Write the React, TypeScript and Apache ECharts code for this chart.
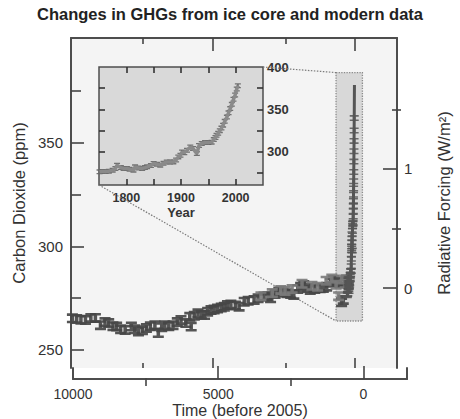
import React, { useEffect, useRef } from "react";
import * as echarts from "echarts";

const titleText = "Changes in GHGs from ice core and modern data";
const refYear = 2005;

// Ice-core CO2 (years before 2005, ppm) – dark markers
const mainYears = [9950, 9800, 9650, 9490, 9300, 9140, 8960, 8800, 8670, 8520, 8390, 8250, 8090, 7870, 7750, 7620, 7480, 7340, 7200, 7040, 6920, 6800, 6690, 6550, 6400, 6250, 6120, 5950, 5810, 5760, 5650, 5520, 5400, 5290, 5180, 5060, 4950, 4830, 4700, 4590, 4480, 4360, 4200, 4070, 3890, 3750, 3540, 3400, 3190, 3050, 2960, 2800, 2670, 2520, 2380, 2250, 2140, 2000, 1900, 1790, 1650, 1560, 1400, 1210, 1100, 980, 850, 740, 620, 510, 455, 395, 330, 280];
const mainCO2 = [265.3, 265.0, 264.6, 264.5, 265.5, 265.5, 262.0, 263.5, 263.0, 261.5, 261.3, 260.0, 259.7, 261.3, 260.0, 258.9, 259.5, 260.6, 261.5, 262.0, 258.2, 261.0, 262.0, 261.5, 262.0, 263.5, 264.5, 263.0, 266.0, 261.3, 266.5, 267.7, 267.0, 266.9, 268.5, 269.3, 269.5, 270.0, 270.5, 270.9, 271.7, 272.0, 271.5, 270.9, 273.3, 273.8, 274.2, 275.0, 275.8, 276.0, 275.0, 277.0, 278.2, 277.8, 277.4, 277.0, 276.6, 279.5, 280.5, 281.4, 280.0, 279.0, 279.5, 279.8, 280.0, 280.6, 282.5, 283.8, 283.0, 282.2, 273.0, 274.2, 283.0, 284.0];

// Ice-core CO2 – lighter markers
const lightYears = [3300, 2900, 2600, 2450, 2200, 1850, 1500, 1300, 1000, 800, 650, 560, 450, 330];
const lightCO2 = [276.0, 277.5, 279.0, 278.5, 279.5, 282.0, 281.0, 280.5, 283.5, 284.5, 281.5, 276.0, 284.0, 282.0];

// Modern record (calendar year, ppm)
const modernYears = [1751, 1756, 1762, 1768, 1775, 1780, 1783, 1790, 1795, 1801, 1806, 1813, 1816, 1822, 1829, 1834, 1838, 1845, 1850, 1856, 1862, 1868, 1874, 1880, 1886, 1891, 1895, 1899, 1902, 1906, 1911, 1917, 1922, 1929, 1933, 1938, 1944, 1950, 1956, 1960, 1963, 1965, 1968, 1971, 1974, 1977, 1980, 1984, 1987, 1990, 1993, 1996, 1999, 2002, 2004];
const modernCO2 = [276.5, 276.8, 277.0, 277.3, 278.5, 280.5, 284.4, 281.5, 280.5, 280.5, 279.5, 278.5, 282.4, 281.0, 280.5, 281.5, 282.4, 284.0, 286.4, 285.5, 284.4, 286.5, 288.2, 288.0, 288.2, 290.5, 294.1, 296.0, 300.0, 299.0, 302.0, 305.9, 304.0, 298.0, 307.5, 309.9, 311.0, 311.0, 311.5, 314.5, 317.0, 319.5, 322.0, 325.0, 328.0, 331.5, 336.0, 341.0, 346.0, 351.0, 356.0, 362.0, 367.0, 374.0, 378.0];

// Ticks
const co2Ticks = [250, 300, 350];
const co2Minor = [275, 325, 375];
const rfTicks = [0, 1];
const rfMinor = [0.5, 1.5];
const timeLabels = [10000, 5000, 0];
const timeMajor = [5000, 0];
const timeMinor = [7500, 2500];
const insetYearTicks = [1800, 1850, 1900, 1950, 2000];
const insetYearLabels = [1800, 1900, 2000];
const insetCO2Ticks = [275, 300, 325, 350, 375];
const insetCO2Labels = [300, 350, 400];

// Highlight box (years before 2005, ppm)
const boxYears = [650, -280];
const boxCO2 = [264, 384];

const FONT = "'Liberation Sans', Arial, Helvetica, sans-serif";
const AX = { color: "#4d4d4d", width: 2 };
const ISHAPE = "path://M0,0H10V2.6H6.6V7.4H10V10H0V7.4H3.4V2.6H0Z";
const plain = (v: number) => String(v);

function tickAxis(extra: any, ticks: number[], len: number, showLine = false, tickColor = "#444") {
  return {
    type: "value",
    axisLine: { show: showLine, onZero: false, lineStyle: AX },
    axisTick: { show: true, inside: true, length: len, customValues: ticks, lineStyle: { color: tickColor, width: 1.6 } },
    axisLabel: { show: false },
    splitLine: { show: false },
    ...extra,
  };
}

export default function App() {
  const ref = useRef<HTMLDivElement>(null);
  useEffect(() => {
    if (!ref.current) return;
    const chart = echarts.init(ref.current, undefined, { renderer: "svg" });
    const mainGrid = { left: 71, top: 38, width: 330, height: 330 };
    const detGrid = { left: 73, top: 368, width: 334, height: 18 };
    const insetGrid = { left: 99, top: 67, width: 164, height: 118 };
    const timeRange = { min: -1500, max: 10000, inverse: true };
    const option: any = {
      animation: false,
      backgroundColor: "#ffffff",
      title: {
        text: titleText,
        left: "center",
        top: 0,
        textStyle: { fontFamily: FONT, fontSize: 16.5, fontWeight: "bold", color: "#222" },
      },
      grid: [
        { ...mainGrid, show: true, backgroundColor: "#f4f4f4", borderWidth: 0 },
        { ...mainGrid },
        { ...detGrid },
        { ...detGrid },
        { ...insetGrid, show: true, backgroundColor: "#d9d9d9", borderColor: "#4d4d4d", borderWidth: 1.5 },
      ],
      xAxis: [
        tickAxis({ gridIndex: 0, position: "bottom", ...timeRange }, timeMajor, 10),
        tickAxis({ gridIndex: 0, position: "top", ...timeRange }, timeMajor, 13, true),
        tickAxis({ gridIndex: 1, position: "bottom", ...timeRange }, timeMinor, 5),
        tickAxis({ gridIndex: 1, position: "top", ...timeRange }, timeMinor, 6),
        tickAxis(
          {
            gridIndex: 2,
            position: "bottom",
            ...timeRange,
            axisLabel: { show: true, customValues: timeLabels, formatter: plain, margin: 8, fontFamily: FONT, fontSize: 14, color: "#333" },
            name: "Time (before 2005)",
            nameLocation: "middle",
            nameGap: 19,
            nameTextStyle: { fontFamily: FONT, fontSize: 16, color: "#333", verticalAlign: "top" },
          },
          timeMajor,
          13,
          true
        ),
        tickAxis({ gridIndex: 3, position: "bottom", ...timeRange }, timeMinor, 8),
        tickAxis(
          {
            gridIndex: 4,
            position: "bottom",
            min: 1750,
            max: 2050,
            axisLabel: { show: true, customValues: insetYearLabels, formatter: plain, margin: 6, fontFamily: FONT, fontSize: 12.5, fontWeight: "bold", color: "#333" },
            name: "Year",
            nameLocation: "middle",
            nameGap: 21,
            nameTextStyle: { fontFamily: FONT, fontSize: 13, fontWeight: "bold", color: "#333", verticalAlign: "top" },
          },
          insetYearTicks,
          6,
          false,
          "#333"
        ),
        tickAxis({ gridIndex: 4, position: "top", min: 1750, max: 2050 }, insetYearTicks, 6, false, "#333"),
      ],
      yAxis: [
        tickAxis(
          {
            gridIndex: 0,
            position: "left",
            min: 241.3,
            max: 400.7,
            axisLabel: { show: true, customValues: co2Ticks, formatter: plain, margin: 8, fontFamily: FONT, fontSize: 15, color: "#333" },
            name: "Carbon Dioxide (ppm)",
            nameLocation: "middle",
            nameRotate: 90,
            nameGap: 41,
            nameTextStyle: { fontFamily: FONT, fontSize: 16.5, color: "#333" },
          },
          co2Ticks,
          13,
          true
        ),
        tickAxis(
          {
            gridIndex: 0,
            position: "right",
            min: -0.672,
            max: 2.1,
            axisLabel: { show: true, customValues: rfTicks, formatter: plain, margin: 7, fontFamily: FONT, fontSize: 15, color: "#333" },
            name: "Radiative Forcing (W/m²)",
            nameLocation: "middle",
            nameRotate: 90,
            nameGap: 38,
            nameTextStyle: { fontFamily: FONT, fontSize: 16.5, color: "#333" },
          },
          rfTicks,
          14,
          true
        ),
        tickAxis({ gridIndex: 1, position: "left", min: 241.3, max: 400.7 }, co2Minor, 10),
        tickAxis({ gridIndex: 1, position: "right", min: -0.672, max: 2.1 }, rfMinor, 9),
        { gridIndex: 2, type: "value", position: "left", min: 0, max: 1, axisLine: { show: true, onZero: false, lineStyle: AX }, axisTick: { show: false }, axisLabel: { show: false }, splitLine: { show: false } },
        { gridIndex: 2, type: "value", position: "right", min: 0, max: 1, axisLine: { show: true, onZero: false, lineStyle: AX }, axisTick: { show: false }, axisLabel: { show: false }, splitLine: { show: false } },
        { gridIndex: 3, type: "value", min: 0, max: 1, show: false },
        tickAxis(
          {
            gridIndex: 4,
            position: "right",
            min: 261,
            max: 400,
            axisLabel: { show: true, customValues: insetCO2Labels, formatter: plain, margin: 4, fontFamily: FONT, fontSize: 13, fontWeight: "bold", color: "#333" },
          },
          insetCO2Ticks,
          6,
          false,
          "#333"
        ),
        tickAxis({ gridIndex: 4, position: "left", min: 261, max: 400 }, insetCO2Ticks, 6, false, "#333"),
      ],
      series: [
        {
          type: "scatter",
          xAxisIndex: 0,
          yAxisIndex: 0,
          data: [],
          silent: true,
          markArea: {
            silent: true,
            itemStyle: { color: "#d8d8d8", borderColor: "#8a8a8a", borderWidth: 1.3, borderType: "dotted" },
            label: { show: false },
            data: [[{ xAxis: boxYears[0], yAxis: boxCO2[1] }, { xAxis: boxYears[1], yAxis: boxCO2[0] }]],
          },
        },
        {
          type: "scatter",
          xAxisIndex: 0,
          yAxisIndex: 0,
          symbol: ISHAPE,
          symbolSize: [11, 10],
          itemStyle: { color: "#474747", opacity: 0.92 },
          data: mainYears.map((y, i) => [y, mainCO2[i]]),
        },
        {
          type: "scatter",
          xAxisIndex: 0,
          yAxisIndex: 0,
          symbol: ISHAPE,
          symbolSize: [11, 10],
          itemStyle: { color: "#7a7a7a", opacity: 0.9 },
          data: lightYears.map((y, i) => [y, lightCO2[i]]),
        },
        {
          type: "line",
          xAxisIndex: 0,
          yAxisIndex: 0,
          showSymbol: false,
          lineStyle: { color: "#555", width: 3 },
          data: modernYears.map((y, i) => [refYear - y, modernCO2[i]]),
        },
        {
          type: "scatter",
          xAxisIndex: 0,
          yAxisIndex: 0,
          symbol: ISHAPE,
          symbolSize: [9, 6],
          itemStyle: { color: "#555", opacity: 0.85 },
          data: modernYears.map((y, i) => [refYear - y, modernCO2[i]]).filter((d) => d[1] < 364),
        },
        {
          type: "line",
          xAxisIndex: 6,
          yAxisIndex: 7,
          showSymbol: false,
          lineStyle: { color: "#8a8a8a", width: 3.5 },
          data: modernYears.map((y, i) => [y, modernCO2[i]]),
        },
        {
          type: "scatter",
          xAxisIndex: 6,
          yAxisIndex: 7,
          symbol: ISHAPE,
          symbolSize: [6, 5],
          itemStyle: { color: "#666", opacity: 0.9 },
          data: modernYears.map((y, i) => [y, modernCO2[i]]),
        },
      ],
    };
    chart.setOption(option);

    const insetTR = chart.convertToPixel({ xAxisIndex: 6, yAxisIndex: 7 } as any, [2050, 400]) as number[];
    const insetBL = chart.convertToPixel({ xAxisIndex: 6, yAxisIndex: 7 } as any, [1750, 261]) as number[];
    const boxTL = chart.convertToPixel({ xAxisIndex: 0, yAxisIndex: 0 } as any, [boxYears[0], boxCO2[1]]) as number[];
    const boxBL = chart.convertToPixel({ xAxisIndex: 0, yAxisIndex: 0 } as any, [boxYears[0], boxCO2[0]]) as number[];
    const dotted = { stroke: "#7a7a7a", lineWidth: 1.2, lineDash: [1.5, 1.5] };
    chart.setOption({
      graphic: [
        { type: "line", silent: true, z: 1, shape: { x1: insetTR[0], y1: insetTR[1], x2: boxTL[0], y2: boxTL[1] }, style: dotted },
        { type: "line", silent: true, z: 1, shape: { x1: insetBL[0], y1: insetBL[1], x2: boxBL[0], y2: boxBL[1] }, style: dotted },
      ],
    });

    return () => chart.dispose();
  }, []);
  return <div ref={ref} style={{ position: "fixed", left: 0, top: 0, width: 460, height: 419 }} />;
}
